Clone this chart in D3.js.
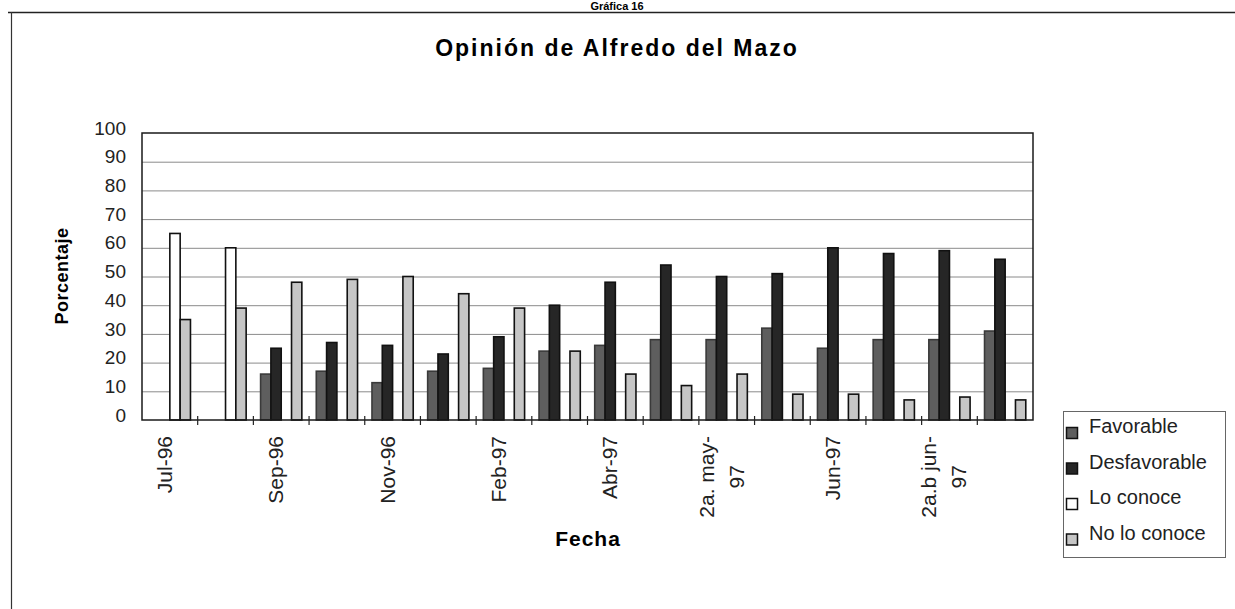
<!DOCTYPE html>
<html lang="es">
<head>
<meta charset="utf-8">
<script src="https://cdn.jsdelivr.net/npm/d3@7"></script>
<style>
    html, body { margin: 0; padding: 0; background: #fff; }
    svg { display: block; }
</style>
</head>
<body>
<div id="chart"></div>
<script>
// Data (percentages); null means no bar drawn
const categories = [
    'Jul-96', 'Ago-96', 'Sep-96', 'Oct-96', 'Nov-96', 'Ene-97', 'Feb-97', 'Mar-97',
    'Abr-97', '1a. may-97', '2a. may-97', '1a. jun-97', 'Jun-97', '2a.a jun-97', '2a.b jun-97', 'Jul-97'
];
// only every other category gets a label on the axis, as in the original
const tickLabels = {
    'Jul-96': ['Jul-96'],
    'Sep-96': ['Sep-96'],
    'Nov-96': ['Nov-96'],
    'Feb-97': ['Feb-97'],
    'Abr-97': ['Abr-97'],
    '2a. may-97': ['2a. may-', '97'],
    'Jun-97': ['Jun-97'],
    '2a.b jun-97': ['2a.b jun-', '97']
};
const seriesNames = ['Favorable', 'Desfavorable', 'Lo conoce', 'No lo conoce'];
const favorable    = [null, null, 16, 17, 13, 17, 18, 24, 26, 28, 28, 32, 25, 28, 28, 31];
const desfavorable = [null, null, 25, 27, 26, 23, 29, 40, 48, 54, 50, 51, 60, 58, 59, 56];
const loConoce     = [65, 60, null, null, null, null, null, null, null, null, null, null, null, null, null, null];
const noLoConoce   = [35, 39, 48, 49, 50, 44, 39, 24, 16, 12, 16, 9, 9, 7, 8, 7];
const yTicks = [0, 10, 20, 30, 40, 50, 60, 70, 80, 90, 100];

// Layout / style settings
const width = 1235;
const height = 609;
const plot = { left: 142, top: 133, right: 1033, bottom: 420 };
const fontFamily = '"Liberation Sans", Arial, sans-serif';
const colors = {
    'Favorable': '#5e5e5e',
    'Desfavorable': '#262626',
    'Lo conoce': '#ffffff',
    'No lo conoce': '#c6c6c6'
};
const strokes = {
    'Favorable': '#3a3a3a',
    'Desfavorable': '#111',
    'Lo conoce': '#111',
    'No lo conoce': '#111'
};

const seriesValues = [favorable, desfavorable, loConoce, noLoConoce];

const svg = d3.select('#chart')
    .append('svg')
    .attr('width', width)
    .attr('height', height)
    .style('font-family', fontFamily);

// Page frame (scanned page border)
svg.append('line')
    .attr('x1', 8).attr('x2', width).attr('y1', 12.5).attr('y2', 12.5)
    .attr('stroke', '#222').attr('stroke-width', 1.5);
svg.append('line')
    .attr('x1', 11.5).attr('x2', 11.5).attr('y1', 12).attr('y2', height)
    .attr('stroke', '#333').attr('stroke-width', 1.2);

// Page caption above the frame
svg.append('text')
    .attr('x', 617).attr('y', 10)
    .attr('text-anchor', 'middle')
    .style('font-size', '11px')
    .style('font-weight', 'bold')
    .text('Gráfica 16');

// Title
svg.append('text')
    .attr('x', 617).attr('y', 56)
    .attr('text-anchor', 'middle')
    .style('font-size', '23px')
    .style('font-weight', 'bold')
    .style('letter-spacing', '2px')
    .text('Opinión de Alfredo del Mazo');

// Scales
const x0 = d3.scaleBand()
    .domain(categories)
    .range([plot.left, plot.right])
    .padding(0);

const x1 = d3.scaleBand()
    .domain(seriesNames)
    .range([0, x0.bandwidth()])
    .paddingInner(0)
    .paddingOuter(0.7);

const y = d3.scaleLinear()
    .domain([0, 100])
    .range([plot.bottom, plot.top]);

// Gridlines
svg.append('g')
    .selectAll('line')
    .data(yTicks.filter(v => v > 0 && v < 100))
    .enter()
    .append('line')
    .attr('x1', plot.left).attr('x2', plot.right)
    .attr('y1', d => y(d) + 0.5).attr('y2', d => y(d) + 0.5)
    .attr('stroke', '#8a8a8a')
    .attr('stroke-width', 1);

// Bars
const rows = categories.map((c, i) => ({
    category: c,
    values: seriesNames.map((s, j) => ({ series: s, value: seriesValues[j][i] }))
}));

const groups = svg.append('g')
    .selectAll('g')
    .data(rows)
    .enter()
    .append('g')
    .attr('transform', d => `translate(${x0(d.category)},0)`);

groups.selectAll('rect')
    .data(d => d.values.filter(v => v.value != null))
    .enter()
    .append('rect')
    .attr('x', d => x1(d.series))
    .attr('y', d => y(d.value))
    .attr('width', x1.bandwidth())
    .attr('height', d => y(0) - y(d.value))
    .attr('fill', d => colors[d.series])
    .attr('stroke', d => strokes[d.series])
    .attr('stroke-width', 1.6);

// Plot frame
svg.append('rect')
    .attr('x', plot.left).attr('y', plot.top)
    .attr('width', plot.right - plot.left)
    .attr('height', plot.bottom - plot.top)
    .attr('fill', 'none')
    .attr('stroke', '#1a1a1a')
    .attr('stroke-width', 1.5);

// Y axis labels
svg.append('g')
    .selectAll('text')
    .data(yTicks)
    .enter()
    .append('text')
    .attr('x', 126)
    .attr('y', d => y(d) - 5)
    .attr('dy', '0.35em')
    .attr('text-anchor', 'end')
    .style('font-size', '19px')
    .style('fill', '#222')
    .text(d => d);

// X axis: tick marks between categories
const boundaries = categories.slice(1).map(c => x0(c));
svg.append('g')
    .selectAll('line')
    .data(boundaries)
    .enter()
    .append('line')
    .attr('x1', d => d).attr('x2', d => d)
    .attr('y1', plot.bottom - 4).attr('y2', plot.bottom + 5)
    .attr('stroke', '#222')
    .attr('stroke-width', 1.2);

// X axis labels (rotated, every other category)
const labelTop = 436;
const lineGap = 30;
categories.forEach(c => {
    const lines = tickLabels[c];
    if (!lines) return;
    const cx = x0(c) + x0.bandwidth() / 2;
    const g = svg.append('g');
    const texts = lines.map(l => g.append('text')
        .style('font-size', '21px')
        .style('fill', '#222')
        .attr('text-anchor', 'middle')
        .text(l));
    const longest = d3.max(texts, t => t.node().getComputedTextLength());
    const cy = labelTop + longest / 2;
    const n = lines.length;
    texts.forEach((t, i) => {
        const bx = cx + (i - (n - 1) / 2) * lineGap + 2;
        t.attr('transform', `translate(${bx},${cy}) rotate(-90)`);
    });
});

// Axis titles
svg.append('text')
    .attr('transform', `translate(68,276) rotate(-90)`)
    .attr('text-anchor', 'middle')
    .style('font-size', '18px')
    .style('font-weight', 'bold')
    .style('letter-spacing', '0.5px')
    .text('Porcentaje');

svg.append('text')
    .attr('x', 588).attr('y', 546)
    .attr('text-anchor', 'middle')
    .style('font-size', '21px')
    .style('font-weight', 'bold')
    .style('letter-spacing', '1px')
    .text('Fecha');

// Legend
const legend = svg.append('g');
legend.append('rect')
    .attr('x', 1063.5).attr('y', 411.5)
    .attr('width', 162).attr('height', 146)
    .attr('fill', '#fff')
    .attr('stroke', '#666')
    .attr('stroke-width', 1);

seriesNames.forEach((s, i) => {
    const yy = 433 + i * 35.5;
    legend.append('rect')
        .attr('x', 1066.5).attr('y', yy - 5.5)
        .attr('width', 11).attr('height', 11)
        .attr('fill', colors[s])
        .attr('stroke', '#111')
        .attr('stroke-width', 1.5);
    legend.append('text')
        .attr('x', 1089).attr('y', yy)
        .style('font-size', '20px')
        .style('fill', '#222')
        .text(s);
});
</script>
</body>
</html>
